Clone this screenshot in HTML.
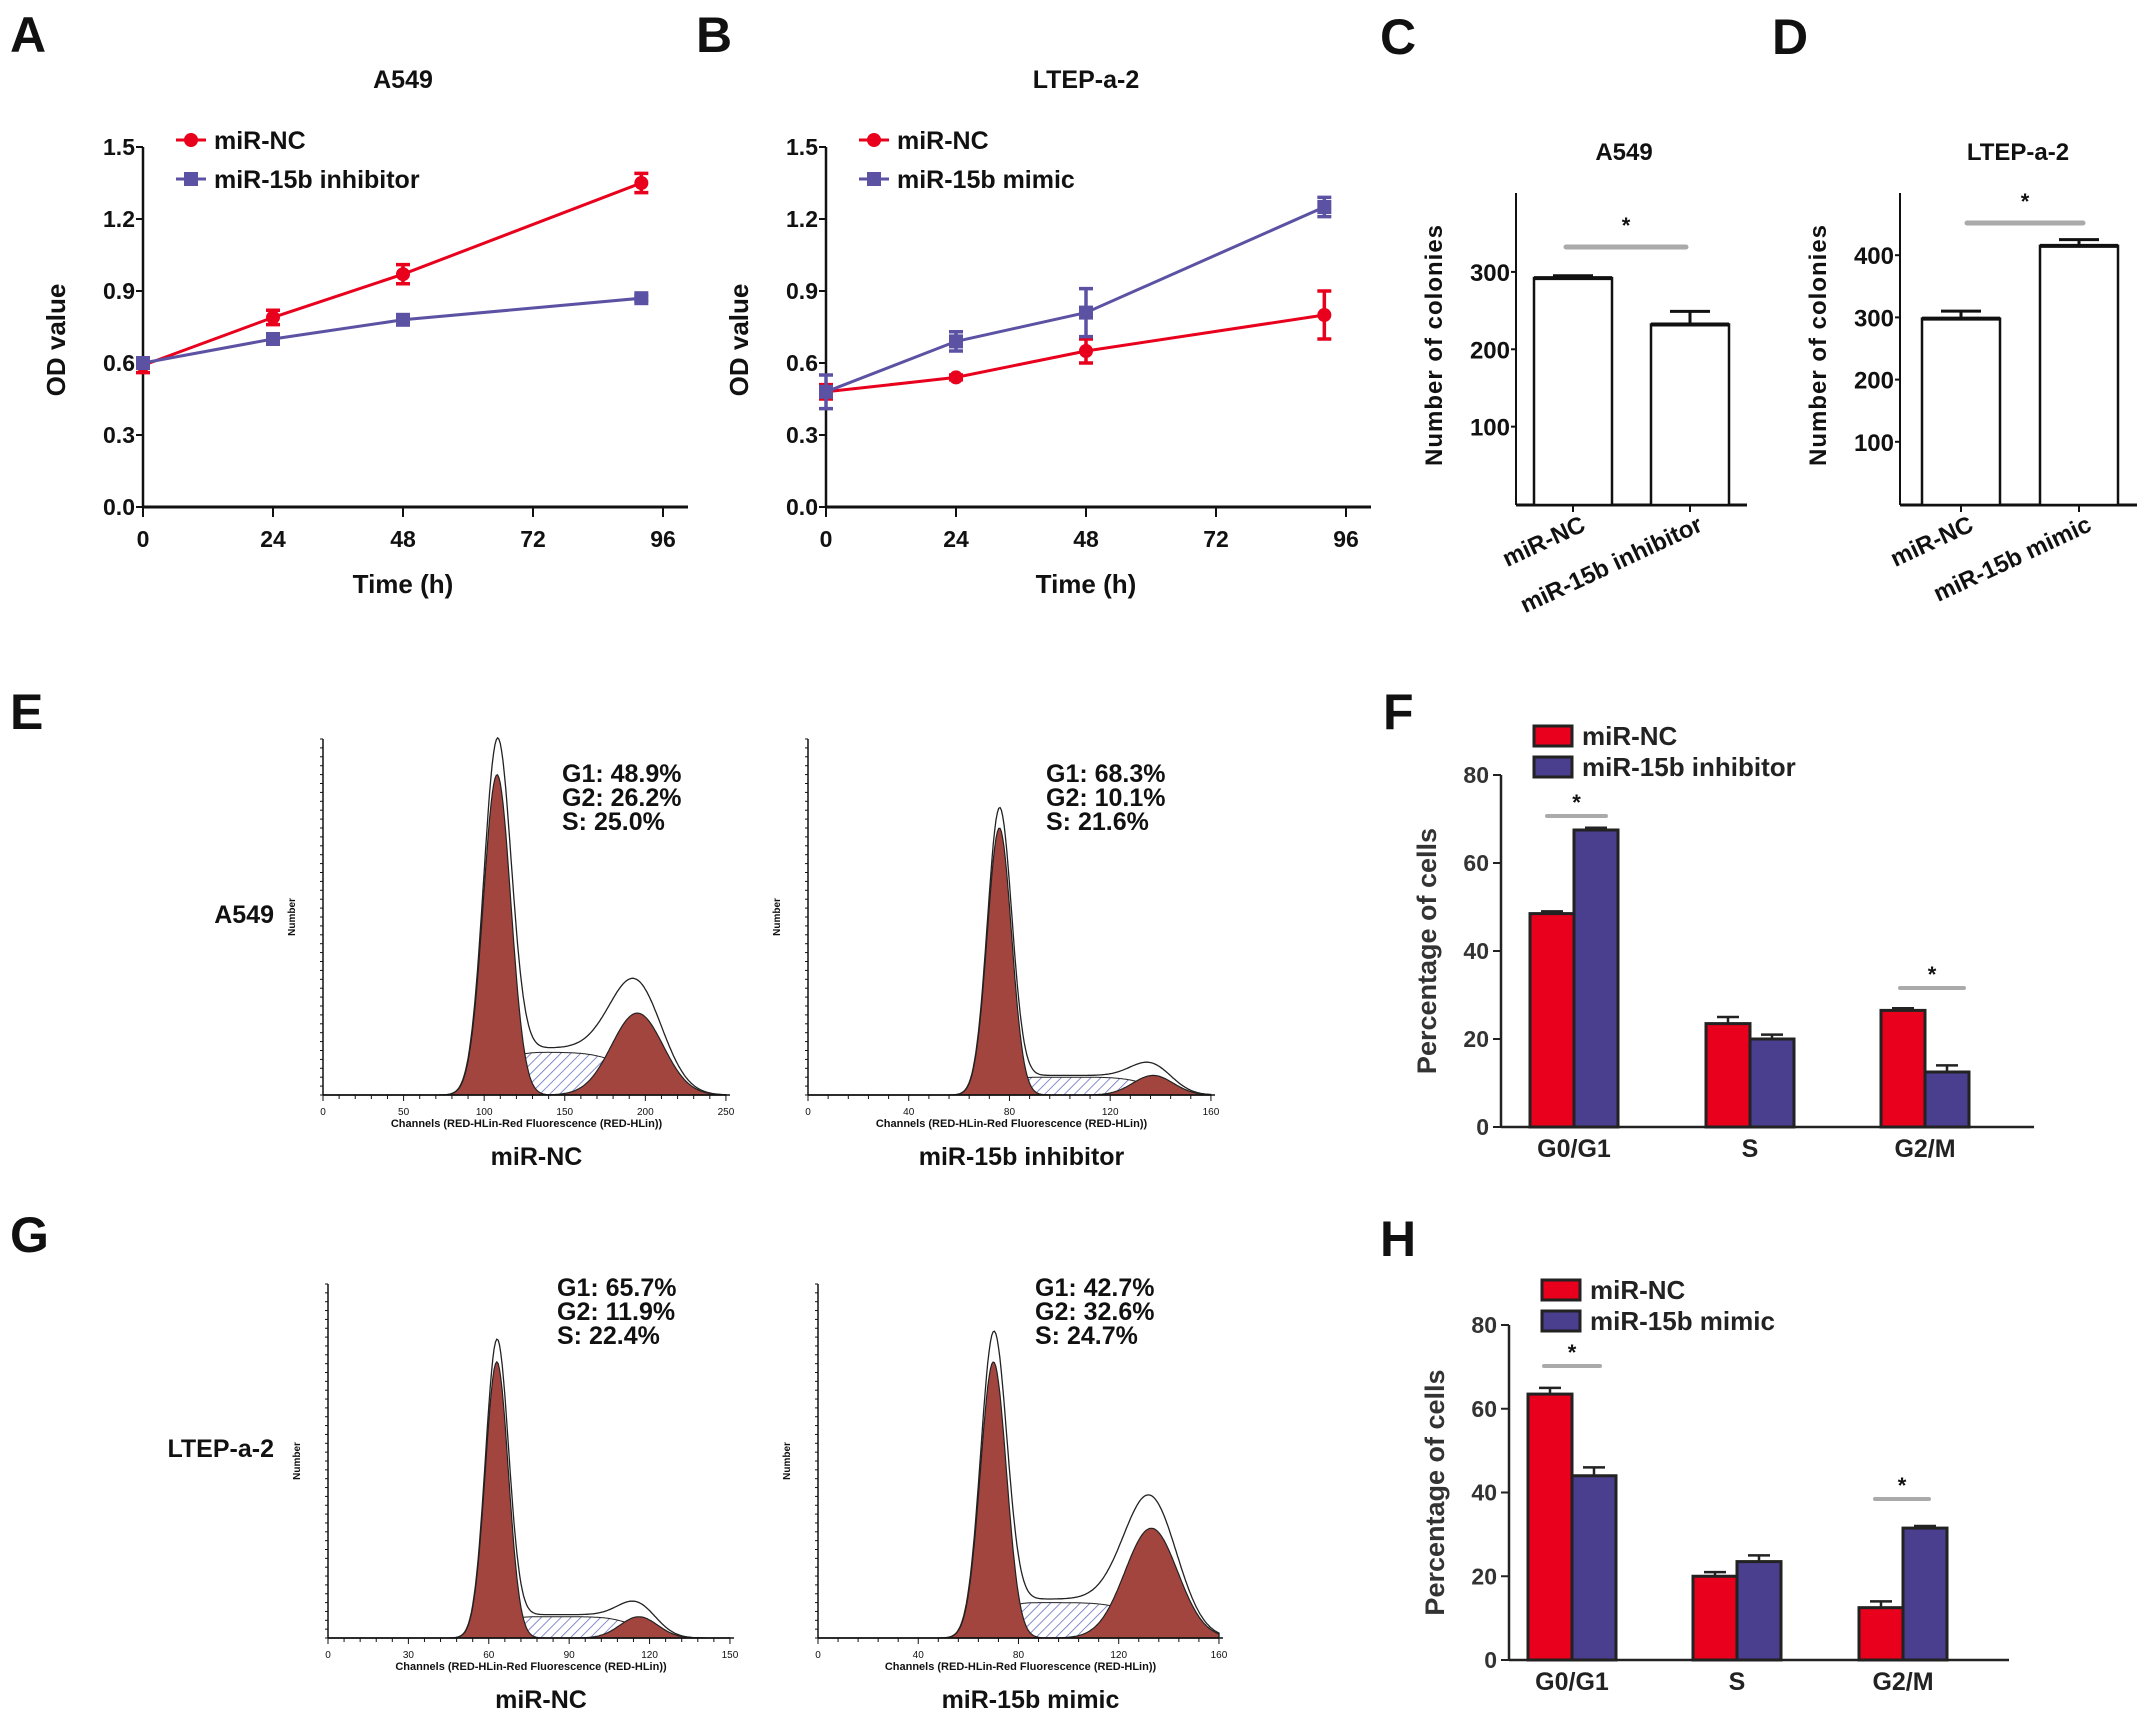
<!DOCTYPE html>
<html><head><meta charset="utf-8">
<style>
html,body{margin:0;padding:0;background:#fff}
svg{display:block;font-family:"Liberation Sans",Arial,sans-serif}
</style></head>
<body>
<svg id="fig" width="2150" height="1724" viewBox="0 0 2150 1724" xmlns="http://www.w3.org/2000/svg">
<defs>
<pattern id="hatchBlue" patternUnits="userSpaceOnUse" width="7" height="7" patternTransform="rotate(45)">
<rect width="7" height="7" fill="#fff"/><line x1="0" y1="0" x2="0" y2="7" stroke="#6670c0" stroke-width="1.6"/>
</pattern>
</defs>
</svg>
<script>
// ---------- DATA ----------
const timeCats=[0,24,48,92];
const timeTicks=[0,24,48,72,96];
const odTicks=[0,0.3,0.6,0.9,1.2,1.5];
const aNC=[0.59,0.79,0.97,1.35];
const aNCerr=[0.03,0.03,0.04,0.04];
const aInh=[0.60,0.70,0.78,0.87];
const aInhErr=[0.02,0.02,0.02,0.01];
const bNC=[0.48,0.54,0.65,0.80];
const bNCerr=[0.03,0.01,0.05,0.10];
const bMim=[0.48,0.69,0.81,1.25];
const bMimErr=[0.07,0.04,0.10,0.04];
const cCats=['miR-NC','miR-15b inhibitor'];
const cVals=[292,232];
const cErr=[3,17];
const cTicks=[100,200,300];
const dCats=['miR-NC','miR-15b mimic'];
const dVals=[298,415];
const dErr=[12,10];
const dTicks=[100,200,300,400];
const phases=['G0/G1','S','G2/M'];
const pctTicks=[0,20,40,60,80];
const fNC=[48.5,23.5,26.5];
const fNCerr=[0.5,1.5,0.5];
const fInh=[67.5,20,12.5];
const fInhErr=[0.5,1,1.5];
const hNC=[63.5,20,12.5];
const hNCerr=[1.5,1,1.5];
const hMim=[44,23.5,31.5];
const hMimErr=[2,1.5,0.5];
// histogram component params: [G1 mean, G1 sd, G1 height, G2 mean, G2 sd, G2 height, S height] (height as fraction of axis)
const histE1=[108,8.5,0.90,195,16,0.23,0.12];
const histE2=[76,4.8,0.75,137,8,0.055,0.05];
const histG1=[63,4.3,0.78,116,7,0.06,0.06];
const histG2=[70,5.2,0.78,133,10.5,0.31,0.10];

// ---------- HELPERS ----------
const NS='http://www.w3.org/2000/svg';
const svg=document.getElementById('fig');
function mk(tag,at,parent){const e=document.createElementNS(NS,tag);for(const k in at)e.setAttribute(k,at[k]);(parent||svg).appendChild(e);return e;}
function txt(s,x,y,size,at,parent){const a=Object.assign({x:x,y:y,'font-size':size,'font-weight':'bold',fill:'#111'},at||{});const e=mk('text',a,parent);e.textContent=s;return e;}
function lin(d0,d1,r0,r1){return v=>r0+(v-d0)*(r1-r0)/(d1-d0);}
const RED='#e8001c',PUR='#4a3e8e',LPUR='#5b52a3';

// panel letters
[['A',10,52],['B',696,52],['C',1380,54],['D',1772,54],['E',10,729],['F',1383,729],['G',10,1252],['H',1380,1256]].forEach(p=>{
  const t=txt(p[0],p[1],p[2],50);
  
  
});

// ---------- LINE CHARTS ----------
function lineChart(id,x0,title,nc,ncE,tr,trE,trName){
  const g=mk('g',{});
  
  
  const X=lin(0,96,x0,x0+520), Y=lin(0,1.5,507,147);
  const t=txt(title,X(48),88,25,{'text-anchor':'middle'},g);
  
  
  const ya=mk('line',{x1:x0,y1:Y(1.5),x2:x0,y2:Y(0),stroke:'#111','stroke-width':2.5},g);
  
  
  const xa=mk('line',{x1:x0,y1:Y(0),x2:x0+545,y2:Y(0),stroke:'#111','stroke-width':3},g);
  
  
  odTicks.forEach(v=>{
    mk('line',{x1:x0-7,y1:Y(v),x2:x0,y2:Y(v),stroke:'#111','stroke-width':2},g);
    const l=txt(v.toFixed(1),x0-8,Y(v)+8,23,{'text-anchor':'end'},g);
    
    
  });
  timeTicks.forEach(v=>{
    mk('line',{x1:X(v),y1:Y(0),x2:X(v),y2:Y(0)+10,stroke:'#111','stroke-width':2},g);
    const l=txt(String(v),X(v),547,23,{'text-anchor':'middle'},g);
    
    
  });
  const xt=txt('Time (h)',X(48),593,26,{'text-anchor':'middle'},g);
  
  
  const yt=txt('OD value',0,0,26,{'text-anchor':'middle',transform:`translate(${x0-78},340) rotate(-90)`},g);
  
  
  function series(vals,errs,col,shape,name){
    const sg=mk('g',{},g);
    
    
    mk('polyline',{points:vals.map((v,i)=>X(timeCats[i])+','+Y(v)).join(' '),fill:'none',stroke:col,'stroke-width':3},sg);
    vals.forEach((v,i)=>{
      const cx=X(timeCats[i]);
      mk('path',{d:`M${cx},${Y(v-errs[i])}V${Y(v+errs[i])}M${cx-7},${Y(v-errs[i])}h14M${cx-7},${Y(v+errs[i])}h14`,stroke:col,'stroke-width':3.5,fill:'none'},sg);
      const m=shape==='c'?mk('circle',{cx:cx,cy:Y(v),r:7,fill:col},sg):mk('rect',{x:cx-7,y:Y(v)-7,width:14,height:14,fill:col},sg);
      
      
    });
  }
  series(nc,ncE,RED,'c','mir-nc');
  series(tr,trE,LPUR,'s',trName.replace(/ /g,'-').toLowerCase());
  const lx=x0+33;
  const l1=mk('g',{},g);
  
  
  mk('line',{x1:lx,y1:140,x2:lx+30,y2:140,stroke:RED,'stroke-width':3},l1);
  mk('circle',{cx:lx+15,cy:140,r:7,fill:RED},l1);
  txt('miR-NC',lx+38,149,25,{},l1);
  const l2=mk('g',{},g);
  
  
  mk('line',{x1:lx,y1:179,x2:lx+30,y2:179,stroke:LPUR,'stroke-width':3},l2);
  mk('rect',{x:lx+8,y:172,width:14,height:14,fill:LPUR},l2);
  txt(trName,lx+38,188,25,{},l2);
}
lineChart('a',143,'A549',aNC,aNCerr,aInh,aInhErr,'miR-15b inhibitor');
lineChart('b',826,'LTEP-a-2',bNC,bNCerr,bMim,bMimErr,'miR-15b mimic');

// ---------- COLONY BARS ----------
function colonyChart(id,x0,xEnd,ymax,title,titleX,cats,vals,errs,ticks,barX,sig){
  const g=mk('g',{});
  
  
  const Y=lin(0,ymax,504,193);
  const t=txt(title,titleX,160,24,{'text-anchor':'middle'},g);
  
  
  const ya=mk('line',{x1:x0,y1:193,x2:x0,y2:505,stroke:'#111','stroke-width':2},g);
  
  
  const xa=mk('line',{x1:x0,y1:505,x2:xEnd,y2:505,stroke:'#111','stroke-width':3},g);
  
  
  ticks.forEach(v=>{
    mk('line',{x1:x0-5,y1:Y(v),x2:x0,y2:Y(v),stroke:'#111','stroke-width':2},g);
    const l=txt(String(v),x0-6,Y(v)+9,24,{'text-anchor':'end'},g);
    
    
  });
  const yt=txt('Number of  colonies',0,0,24,{'text-anchor':'middle','letter-spacing':'1',transform:`translate(${x0-74},345) rotate(-90)`},g);
  
  
  vals.forEach((v,i)=>{
    const bx=barX[i],w=78;
    const b=mk('rect',{x:bx,y:Y(v),width:w,height:505-Y(v),fill:'#fff',stroke:'#111','stroke-width':2.5},g);
    
    
    mk('path',{d:`M${bx+w/2},${Y(v)}V${Y(v+errs[i])}M${bx+w/2-20},${Y(v+errs[i])}h40`,stroke:'#111','stroke-width':3},g);
    mk('line',{x1:bx,y1:Y(v),x2:bx+w,y2:Y(v),stroke:'#111','stroke-width':4},g);
    mk('line',{x1:bx+w/2,y1:505,x2:bx+w/2,y2:512,stroke:'#111','stroke-width':2},g);
    const l=txt(cats[i],0,0,24,{'text-anchor':'end',transform:`translate(${bx+w/2+14},${530}) rotate(-25)`},g);
    
    
  });
  const s=mk('line',{x1:sig[0],y1:sig[2],x2:sig[1],y2:sig[2],stroke:'#aaa','stroke-width':5,'stroke-linecap':'round'},g);
  
  
  const st=txt('*',(sig[0]+sig[1])/2,sig[2]-14,22,{'text-anchor':'middle'},g);
  
  
}
colonyChart('c',1516,1747,402,'A549',1624,cCats,cVals,cErr,cTicks,[1534,1651],[1566,1686,247]);
colonyChart('d',1900,2137,500,'LTEP-a-2',2018,dCats,dVals,dErr,dTicks,[1922,2040],[1967,2083,223]);

// ---------- HISTOGRAMS ----------
function erf(x){const s=x<0?-1:1;x=Math.abs(x);const t=1/(1+0.3275911*x);const y=1-((((1.061405429*t-1.453152027)*t+1.421413741)*t-0.284496736)*t+0.254829592)*t*Math.exp(-x*x);return s*y;}
function histo(id,x0,xEnd,top,base,xmax,xtickStep,p,stats,statX,statY,label){
  const g=mk('g',{});
  
  
  const X=lin(0,xmax,x0,x0+(xEnd-x0)*0.99), H=base-top;
  const gauss=(x,m,s,h)=>h*Math.exp(-0.5*((x-m)/s)**2);
  const sfun=x=>p[6]*0.5*(erf((x-p[0])/(p[1]*1.6))-erf((x-p[3])/(p[4]*1.6)));
  const N=300;
  const mkPath=f=>{let d=`M${X(0)},${base}`;for(let i=0;i<=N;i++){const x=xmax*i/N;d+=`L${X(x).toFixed(1)},${(base-f(x)*H).toFixed(1)}`;}return d+`L${X(xmax)},${base}Z`;};
  const sp=mk('path',{d:mkPath(sfun),fill:'url(#hatchBlue)',stroke:'#222','stroke-width':1},g);
  
  
  const g1=mk('path',{d:mkPath(x=>gauss(x,p[0],p[1],p[2])),fill:'#a2453f',stroke:'#222','stroke-width':1.2},g);
  
  
  const g2=mk('path',{d:mkPath(x=>gauss(x,p[3],p[4],p[5])),fill:'#a2453f',stroke:'#222','stroke-width':1.2},g);
  
  
  const tot=mk('path',{d:mkPath(x=>gauss(x,p[0],p[1],p[2]*1.04)+gauss(x,p[3],p[4],p[5]*1.12)+sfun(x)*1.1),fill:'none',stroke:'#222','stroke-width':1.3},g);
  
  
  mk('line',{x1:x0,y1:top,x2:x0,y2:base,stroke:'#111','stroke-width':1.5},g);
  mk('line',{x1:x0,y1:base,x2:xEnd,y2:base,stroke:'#111','stroke-width':1.5},g);
  for(let y=base;y>top;y-=H/40)mk('line',{x1:x0-3,y1:y,x2:x0,y2:y,stroke:'#111','stroke-width':1},g);
  for(let v=0;v<=xmax;v+=xtickStep/5)mk('line',{x1:X(v),y1:base,x2:X(v),y2:base+(v%xtickStep===0?6:4),stroke:'#111','stroke-width':1},g);
  for(let v=0;v<=xmax;v+=xtickStep)txt(String(v),X(v),base+20,10,{'text-anchor':'middle','font-weight':'normal'},g);
  const ct=txt('Channels (RED-HLin-Red Fluorescence (RED-HLin))',(x0+xEnd)/2,base+32,11,{'text-anchor':'middle'},g);
  
  
  const nt=txt('Number',0,0,10,{'text-anchor':'middle',transform:`translate(${x0-28},${(top+base)/2}) rotate(-90)`},g);
  
  
  stats.forEach((s,i)=>{const l=txt(s,statX,statY+i*24,25,{},g);
    
    });
  const lb=txt(label,(x0+xEnd)/2+10,base+70,25,{'text-anchor':'middle'},g);
  
  
}
histo('e-mir-nc',323,730,739,1095,250,50,histE1,['G1: 48.9%','G2: 26.2%','S: 25.0%'],562,782,'miR-NC');
histo('e-inhibitor',808,1215,739,1095,160,40,histE2,['G1: 68.3%','G2: 10.1%','S: 21.6%'],1046,782,'miR-15b inhibitor');
histo('g-mir-nc',328,734,1284,1638,150,30,histG1,['G1: 65.7%','G2: 11.9%','S: 22.4%'],557,1296,'miR-NC');
histo('g-mimic',818,1223,1284,1638,160,40,histG2,['G1: 42.7%','G2: 32.6%','S: 24.7%'],1035,1296,'miR-15b mimic');
let rl=txt('A549',274,923,25,{'text-anchor':'end'});


rl=txt('LTEP-a-2',274,1457,25,{'text-anchor':'end'});



// ---------- CELL CYCLE BARS ----------
function cycleChart(id,x0,xEnd,y0,y80,centers,nc,ncE,tr,trE,trName,legY,sigs){
  const g=mk('g',{});
  
  
  const Y=lin(0,80,y0,y80);
  mk('line',{x1:x0,y1:y80,x2:x0,y2:y0,stroke:'#222','stroke-width':2.5},g);
  mk('line',{x1:x0,y1:y0,x2:xEnd,y2:y0,stroke:'#222','stroke-width':2.5},g);
  pctTicks.forEach(v=>{
    mk('line',{x1:x0-8,y1:Y(v),x2:x0,y2:Y(v),stroke:'#222','stroke-width':2},g);
    const l=txt(String(v),x0-12,Y(v)+8,23,{'text-anchor':'end',fill:'#333'},g);
    
    
  });
  const yt=txt('Percentage of cells',0,0,27,{'text-anchor':'middle',fill:'#333',transform:`translate(${x0-65},${(y0+y80)/2}) rotate(-90)`},g);
  
  
  const w=44;
  phases.forEach((ph,i)=>{
    const c=centers[i];
    [[nc,ncE,RED,c-w,'mir-nc'],[tr,trE,PUR,c,'treatment']].forEach(s=>{
      const v=s[0][i],e=s[1][i];
      mk('path',{d:`M${s[3]+w/2},${Y(v)}V${Y(v+e)}M${s[3]+w/2-11},${Y(v+e)}h22`,stroke:'#222','stroke-width':2.5},g);
      const b=mk('rect',{x:s[3],y:Y(v),width:w,height:y0-Y(v),fill:s[2],stroke:'#222','stroke-width':3},g);
      
      
    });
    const l=txt(ph,c,y0+30,25,{'text-anchor':'middle',fill:'#222'},g);
    
    
  });
  [['miR-NC',RED,legY],[trName,PUR,legY+31]].forEach((L,i)=>{
    const lg=mk('g',{},g);
    
    
    mk('rect',{x:x0+33,y:L[2]-10,width:38,height:20,fill:L[1],stroke:'#222','stroke-width':3},lg);
    txt(L[0],x0+81,L[2]+9,26,{fill:'#222'},lg);
  });
  sigs.forEach(s=>{
    const sl=mk('line',{x1:s[0],y1:s[2],x2:s[1],y2:s[2],stroke:'#aaa','stroke-width':4,'stroke-linecap':'round'},g);
    
    
    const st=txt('*',(s[0]+s[1])/2,s[2]-6,22,{'text-anchor':'middle'},g);
    
    
  });
}
cycleChart('f',1501,2034,1127,775,[1574,1750,1925],fNC,fNCerr,fInh,fInhErr,'miR-15b inhibitor',736,[[1547,1606,816],[1900,1964,988]]);
cycleChart('h',1509,2009,1660,1325,[1572,1737,1903],hNC,hNCerr,hMim,hMimErr,'miR-15b mimic',1290,[[1544,1600,1366],[1875,1929,1499]]);
</script>
</body></html>
